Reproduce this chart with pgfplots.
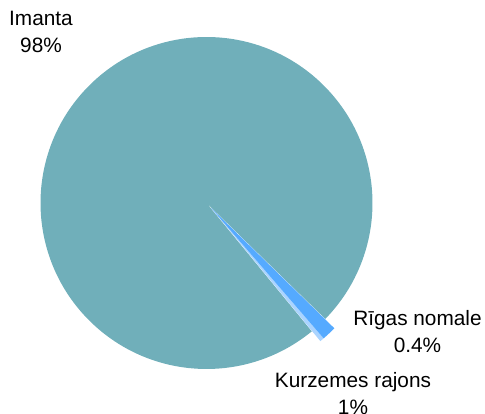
\documentclass[border=0pt]{standalone}
\usepackage{pgfplots}
\pgfplotsset{compat=1.18}
\usepackage{fontspec}
\setmainfont{Liberation Sans}
\definecolor{cImanta}{RGB}{112,175,186}
\definecolor{cKurz}{RGB}{85,170,255}
\definecolor{cRigas}{RGB}{170,212,255}
% shares (percent)
\def\vImanta{98.24}
\def\vRigas{0.40}
\def\vKurz{1.36}
\begin{document}
\begin{tikzpicture}
\useasboundingbox (0,0) rectangle (485pt,414pt);
\pgfmathsetmacro\aA{-44.3}
\pgfmathsetmacro\aB{\aA+3.6*\vImanta}
\pgfmathsetmacro\aC{\aB+3.6*\vRigas}
\pgfmathsetmacro\aD{\aC+3.6*\vKurz}
\pgfmathsetmacro\aM{(\aB+\aD)/2}
\begin{axis}[at={(0,0)},anchor=south west,scale only axis,width=485pt,height=414pt,
  xmin=0,xmax=485,ymin=0,ymax=414,hide axis,clip=false]
\fill[cImanta] (axis cs:206.5,211) -- +(\aA:166pt) arc[start angle=\aA,end angle=\aB,radius=166pt] -- cycle;
\fill[cRigas,shift={(\aM:7pt)}] (axis cs:206.5,211) -- +(\aB:172pt) arc[start angle=\aB,end angle=\aC,radius=172pt] -- cycle;
\fill[cKurz,shift={(\aM:7pt)}] (axis cs:206.5,211) -- +(\aC:172pt) arc[start angle=\aC,end angle=\aD,radius=172pt] -- cycle;
\node[align=center,inner sep=0pt,font=\fontsize{20.8}{27}\selectfont] at (axis cs:41,382) {Imanta\\98\%};
\node[align=center,inner sep=0pt,font=\fontsize{20.8}{27}\selectfont] at (axis cs:417.5,82.5) {Rīgas nomale\\0.4\%};
\node[align=center,inner sep=0pt,font=\fontsize{20.8}{27}\selectfont] at (axis cs:353,20) {Kurzemes rajons\\1\%};
\end{axis}
\end{tikzpicture}
\end{document}
